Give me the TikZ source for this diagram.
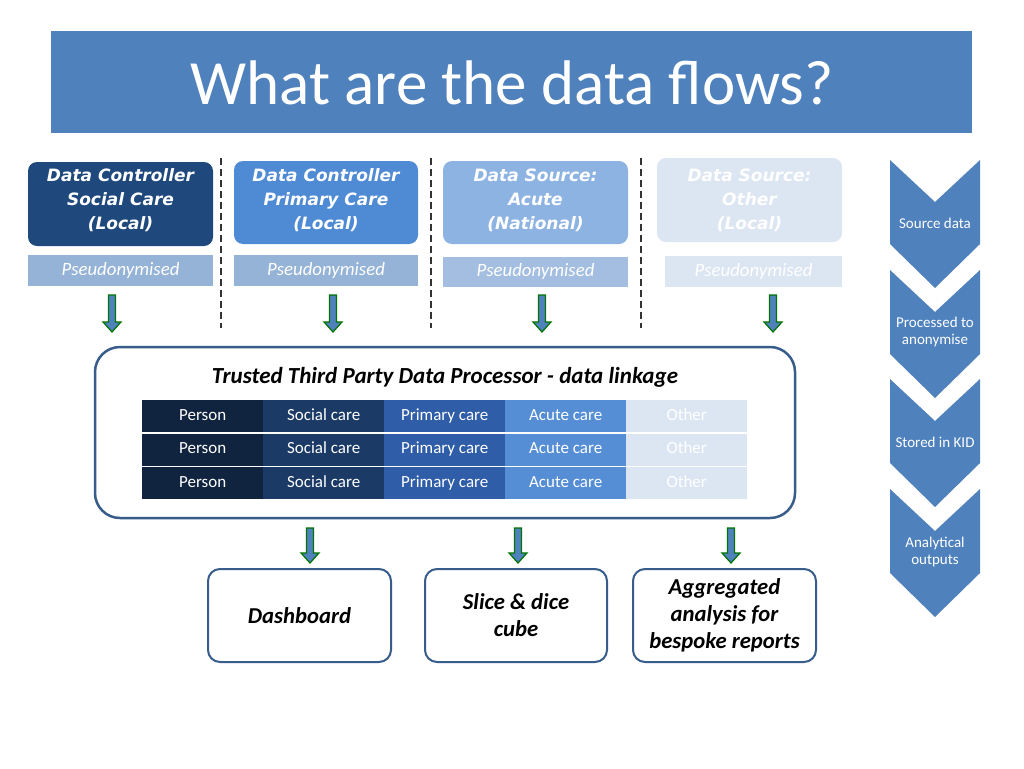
\documentclass[tikz,border=0pt]{standalone}
\usepackage{fontspec}
\setmainfont{Carlito}
\newfontfamily\dv{DejaVu Sans}
\begin{document}
\begin{tikzpicture}[x=1pt,y=-1pt,
  src/.style={rounded corners=9pt,draw=none,text=white,font=\dv\bfseries\itshape\fontsize{17}{24}\selectfont,align=center,inner sep=0},
  pse/.style={draw=none,text=white,font=\itshape\fontsize{18.8}{20}\selectfont,inner sep=0,text height=13pt,text depth=4pt},
  dn/.style={draw=green!45!black,fill=chv,line width=1.2pt},
  cell/.style={minimum width=121pt,minimum height=32pt,inner sep=0,text=white,font=\fontsize{17}{18}\selectfont,anchor=north west,text height=12pt,text depth=4pt},
  outbox/.style={draw=bd,line width=2pt,rounded corners=12pt,fill=white,align=center,font=\bfseries\itshape\fontsize{22.7}{27}\selectfont},
  clab/.style={text=white,font=\fontsize{15}{17}\selectfont,align=center}]
\definecolor{chv}{HTML}{4F81BD}
\definecolor{bd}{HTML}{385D8A}
\useasboundingbox (0,0) rectangle (1024,768);
\fill[white] (0,0) rectangle (1024,768);
% title
\fill[chv] (51,31) rectangle (972,133);
\node[text=white,font=\fontsize{63}{66}\selectfont] (title) at (512,83) {What are the data flows?};
% dashed separators
\foreach \x in {221,431,641} \draw[dash pattern=on 7pt off 4pt,line width=1.2pt,black!80] (\x,158) -- (\x,328);
% source boxes
\definecolor{c1}{HTML}{1F497D}\definecolor{c2}{HTML}{4F8AD4}\definecolor{c3}{HTML}{8DB3E2}\definecolor{c4}{HTML}{DCE6F2}
\definecolor{p1}{HTML}{95B3D7}\definecolor{p3}{HTML}{A3BEE0}
\path[src,fill=c1] (28,162) rectangle (213,246);
\node[src] (s1) at (120.5,200) {Data Controller\\Social Care\\(Local)};
\path[src,fill=c2] (234,161) rectangle (418,244);
\node[src] (s2) at (326,200) {Data Controller\\Primary Care\\(Local)};
\path[src,fill=c3] (443,161) rectangle (628,244);
\node[src] (s3) at (535.5,200) {Data Source:\\Acute\\(National)};
\path[src,fill=c4] (657,158) rectangle (842,242);
\node[src] (s4) at (749.5,200) {Data Source:\\Other\\(Local)};
\fill[p1] (28,255) rectangle (213,286);
\node[pse] (p1n) at (120.5,270.5) {Pseudonymised};
\fill[p1] (234,255) rectangle (418,286);
\node[pse] (p2n) at (326,270.5) {Pseudonymised};
\fill[p3] (443,257) rectangle (628,287);
\node[pse] (p3n) at (535.5,272) {Pseudonymised};
\fill[c4] (665,256) rectangle (842,287);
\node[pse] (p4n) at (753.5,271.5) {Pseudonymised};
% down arrows
\foreach \x/\a/\b in {112/295/332,333/295/332,542/295/332,773/295/332,310/528/563,518/528/563,731/528/563}
  \draw[dn] (\x-3.5,\a) -- (\x+3.5,\a) -- (\x+3.5,\b-10) -- (\x+9,\b-10) -- (\x,\b) -- (\x-9,\b-10) -- (\x-3.5,\b-10) -- cycle;
% TTP box
\draw[draw=bd,line width=2.5pt,rounded corners=25pt] (95,347) rectangle (795,518);
\node[font=\bfseries\itshape\fontsize{23}{24}\selectfont] (ttp) at (445,377) {Trusted Third Party Data Processor - data linkage};
\definecolor{t1}{HTML}{10243F}\definecolor{t2}{HTML}{1B3A66}\definecolor{t3}{HTML}{2F5DA8}\definecolor{t4}{HTML}{558ED5}\definecolor{t5}{HTML}{DCE6F2}
\foreach \y in {400,433.5,467}{
  \node[cell,fill=t1] at (142,\y) {Person};
  \node[cell,fill=t2] at (263,\y) {Social care};
  \node[cell,fill=t3] at (384,\y) {Primary care};
  \node[cell,fill=t4] at (505,\y) {Acute care};
  \node[cell,fill=t5] at (626,\y) {Other};
}
% outputs
\node[outbox,minimum width=183pt,minimum height=93pt] (o1) at (299.5,615.5) {Dashboard};
\node[outbox,minimum width=182pt,minimum height=93pt] (o2) at (516,615.5) {Slice \& dice\\cube};
\node[outbox,minimum width=183pt,minimum height=93pt] (o3) at (724.5,615.5) {Aggregated\\analysis for\\bespoke reports};
% chevrons
\foreach \t in {160,270,379,489}
  \fill[chv] (890,\t) -- (935,\t+42) -- (980,\t) -- (980,\t+84) -- (935,\t+128) -- (890,\t+84) -- cycle;
\node[clab] (l1) at (935,223) {Source data};
\node[clab] (l2) at (935,332) {Processed to\\anonymise};
\node[clab] (l3) at (935,442) {Stored in KID};
\node[clab] (l4) at (935,552) {Analytical\\outputs};
\end{tikzpicture}
\end{document}
